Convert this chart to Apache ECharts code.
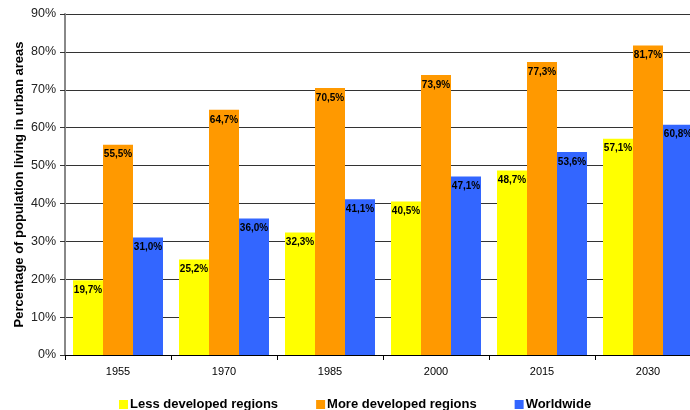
<!DOCTYPE html>
<html><head><meta charset="utf-8">
<script src="https://cdn.jsdelivr.net/npm/echarts@6/dist/echarts.min.js"></script>
<style>html,body{margin:0;padding:0;background:#fff}#c{width:690px;height:410px}</style>
</head><body><div id="c"></div>
<script>
const categories = ['1955','1970','1985','2000','2015','2030'];
const lessDeveloped = [19.7, 25.2, 32.3, 40.5, 48.7, 57.1];
const moreDeveloped = [55.5, 64.7, 70.5, 73.9, 77.3, 81.7];
const worldwide = [31.0, 36.0, 41.1, 47.1, 53.6, 60.8];
const seriesNames = ['Less developed regions','More developed regions','Worldwide'];
const colors = ['#FFFF00','#FF9900','#3366FF'];
const font = '"Liberation Sans", Arial, sans-serif';

const chart = echarts.init(document.getElementById('c'), null, {renderer:'canvas'});
const lbl = {
  show:true, position:'insideTop', distance:5,
  formatter: p => p.value.toFixed(1).replace('.', ',') + '%',
  color:'#000', fontWeight:'bold', fontSize:10, fontFamily:font
};
chart.setOption({
  animation:false,
  textStyle:{fontFamily:font},
  grid:{left:65, top:14, width:636, height:341, containLabel:false, outerBoundsMode:'none'},
  legend:{
    left:114, top:393, itemGap:38, itemWidth:9, itemHeight:9, icon:'rect',
    textStyle:{fontWeight:'bold', fontSize:13, color:'#000', fontFamily:font, padding:[0,0,0,-3]}
  },
  xAxis:{
    type:'category', data:categories, boundaryGap:true,
    axisLine:{lineStyle:{color:'#000', width:1}},
    axisTick:{show:true, length:5, lineStyle:{color:'#000'}},
    axisLabel:{color:'#000', fontSize:11, margin:11, fontFamily:font}
  },
  yAxis:{
    type:'value', min:0, max:90, interval:10,
    name:'Percentage of population living in urban areas',
    nameLocation:'middle', nameGap:39, nameRotate:90, nameMoveOverlap:false,
    nameTextStyle:{fontWeight:'bold', fontSize:13, color:'#000', fontFamily:font},
    axisLine:{show:true, lineStyle:{color:'#888', width:2}},
    axisTick:{show:true, length:5, lineStyle:{color:'#333'}},
    axisLabel:{formatter:'{value}%', color:'#222', fontSize:12.5, margin:9, fontFamily:font},
    splitLine:{show:true, lineStyle:{color:'#333', width:1}}
  },
  series:[
    {name:seriesNames[0], type:'bar', data:lessDeveloped, barWidth:30, barGap:'0%', itemStyle:{color:colors[0]}, label:lbl},
    {name:seriesNames[1], type:'bar', data:moreDeveloped, barWidth:30, barGap:'0%', itemStyle:{color:colors[1]}, label:lbl},
    {name:seriesNames[2], type:'bar', data:worldwide, barWidth:30, barGap:'0%', itemStyle:{color:colors[2]}, label:lbl}
  ]
});
</script></body></html>
